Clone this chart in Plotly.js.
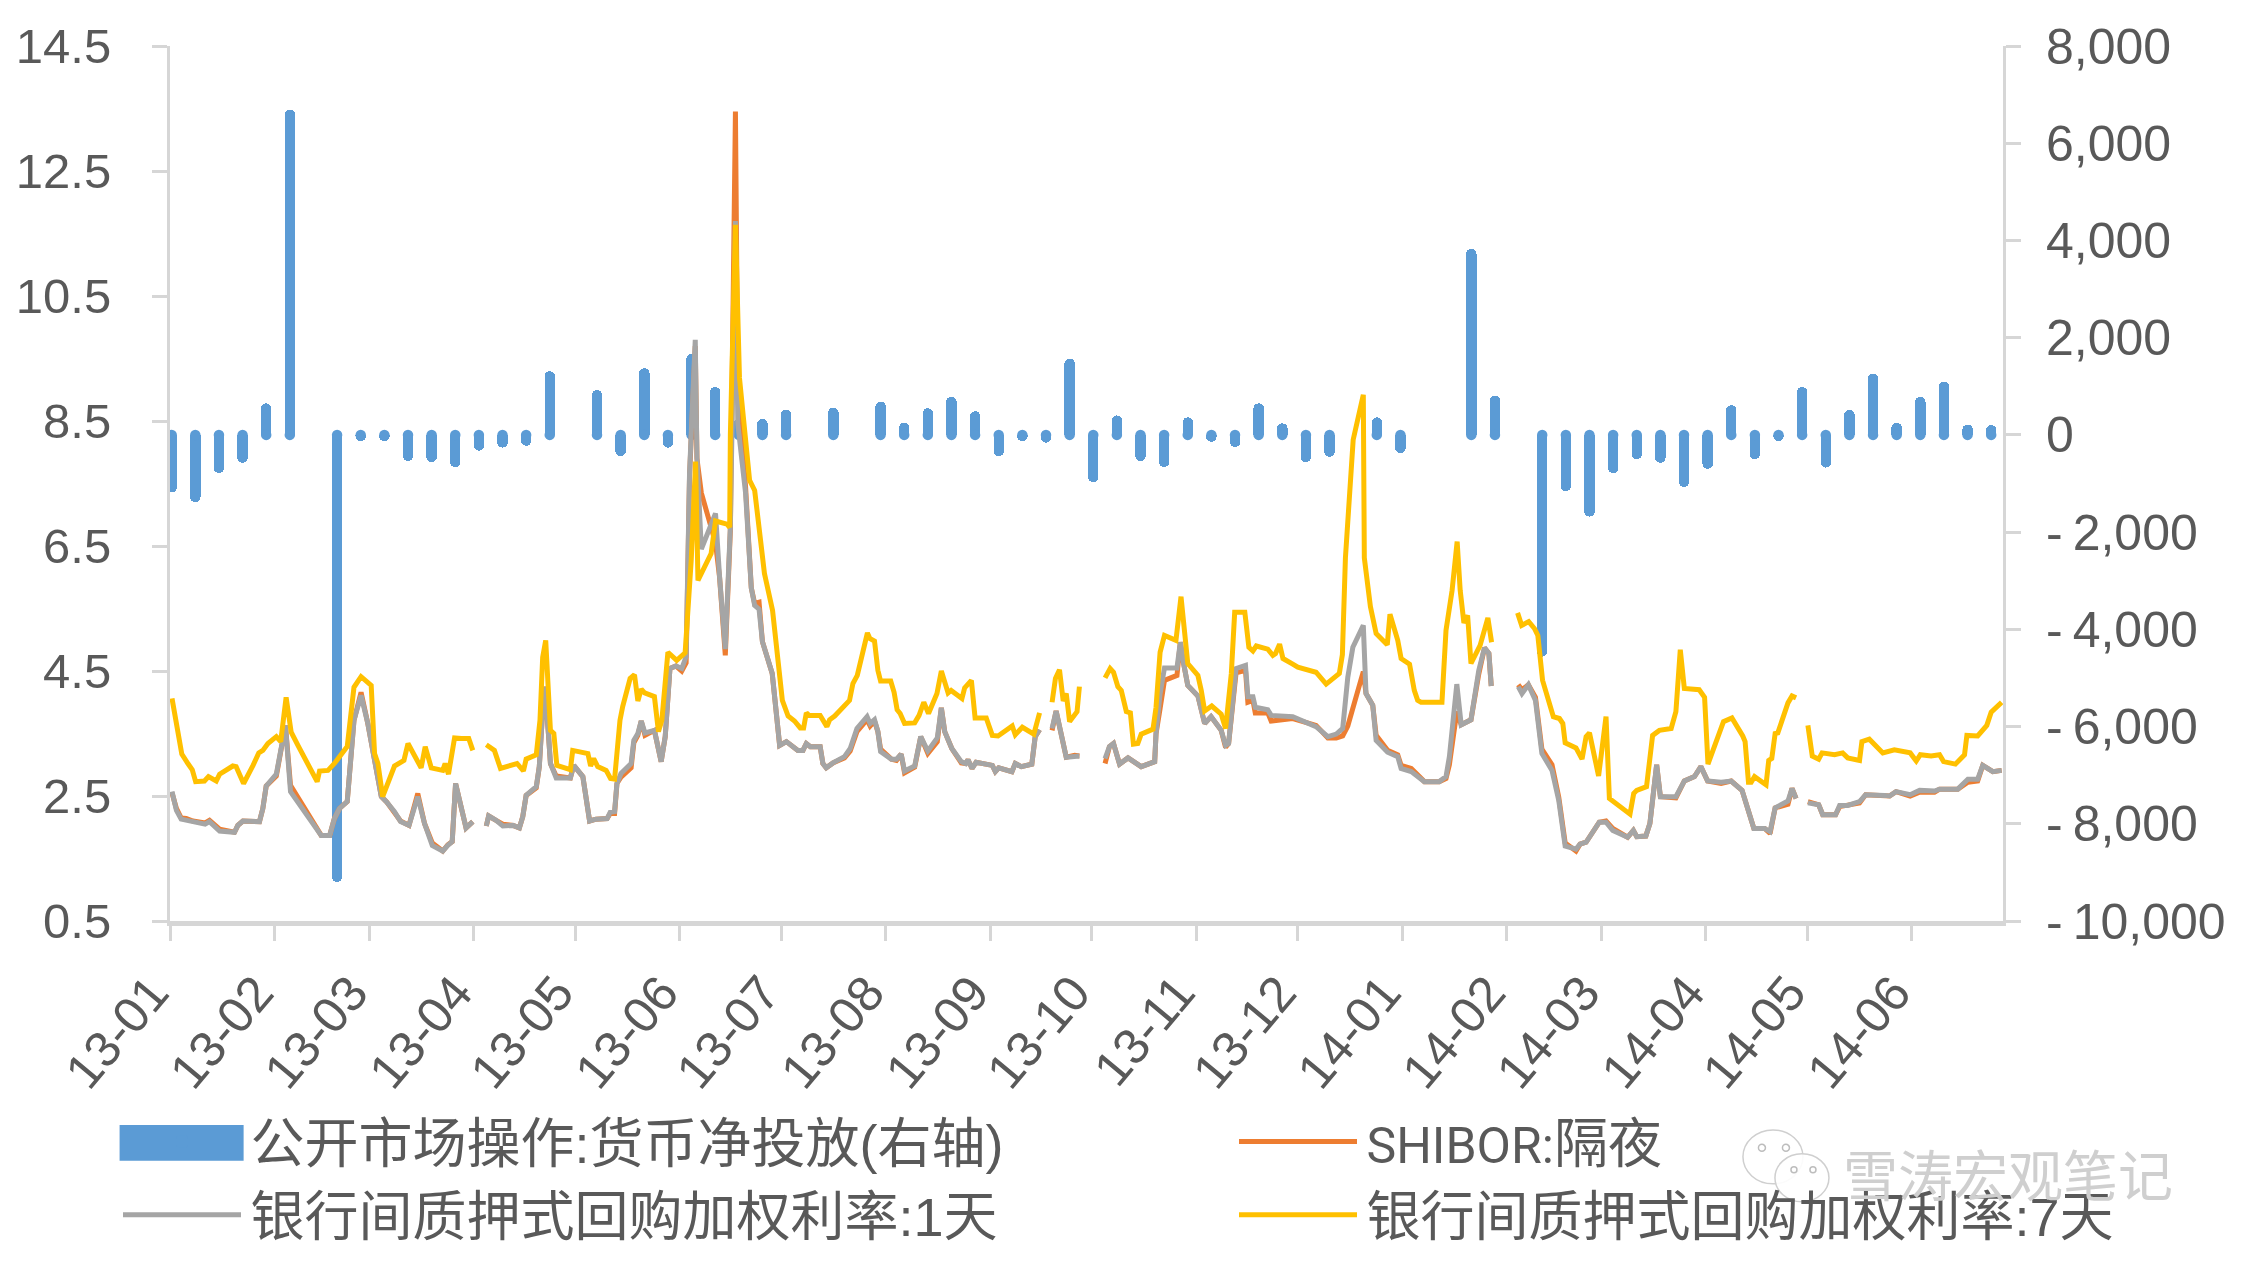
<!DOCTYPE html>
<html><head><meta charset="utf-8">
<script src="https://cdn.plot.ly/plotly-3.0.1.min.js"></script>
<style>html,body{margin:0;padding:0;background:#fff}</style></head>
<body><div id="chart" style="width:2248px;height:1271px"></div>
<script>
// Series names
const nameBars = "\u200A公开市场操作:货币净投放(右轴)";
const nameShibor = "\u200A<span style=\"font-family:Roboto;font-size:50px\">SHIBOR:</span>隔夜";
const nameR1 = "\u200A银行间质押式回购加权利率:1天";
const nameR7 = "\u200A银行间质押式回购加权利率:7天";

// Weekly net injection (right axis); days counted from 2013-01-01
const barDays = [0.5,7.5,14.5,21.5,28.5,35.5,42.5,49.5,56.5,63.5,70.5,77.5,84.5,91.5,98.5,105.5,112.5,119.5,126.5,133.5,140.5,147.5,154.5,161.5,168.5,175.5,182.5,189.5,196.5,203.5,210.5,217.5,224.5,231.5,238.5,245.5,252.5,259.5,266.5,273.5,280.5,287.5,294.5,301.5,308.5,315.5,322.5,329.5,336.5,343.5,350.5,357.5,364.5,371.5,378.5,385.5,392.5,399.5,406.5,413.5,420.5,427.5,434.5,441.5,448.5,455.5,462.5,469.5,476.5,483.5,490.5,497.5,504.5,511.5,518.5,525.5,532.5,539.5];
const barVals = [-1184,-1383,-785,-573,648,6690,null,-9195,-130,-130,-536,-560,-660,-324,-262,-224,1308,null,922,-436,1370,-262,1670,984,330,324,523,null,560,null,685,250,548,785,486,-436,-130,-160,1570,-972,400,-536,-660,360,-140,-250,648,237,-560,-449,null,360,-374,null,null,3825,810,null,-4560,-1159,-1682,-785,-498,-573,-1072,-698,610,-498,-125,984,-673,510,1258,250,785,1096,212,200];

// 1-day repo rate and SHIBOR share these days; null marks a break in the line
const r1Days = [
0.6,1.9,3.3,4.8,6.8,10.4,11.7,14.7,19.1,20.1,21.6,26.5,27.5,28.5,31.5,32.8,34.2,35.7,44.8,47.3,48.7,50.2,52.5,54.5,56.6,58.6,60.6,62.6,64.1,66.5,68.3,70.8,73.4,75.4,77.7,80.8,82.3,83.6,84.6,87.7,89.7,91.5,
93.7,94.4,96.6,98.6,101.6,103.5,104.5,105.5,108.5,109.4,110.4,111.1,112.1,112.7,114.4,118.6,119.6,122.3,124.3,126.2,129.5,130.4,131.7,132.4,133.6,136.6,137.4,138.6,139.6,140.7,143.5,145.5,146.7,148.1,149.9,151.6,152.9,
153.9,155.6,156.1,157.4,161.6,162.8,164.5,166,167.5,168.2,170.5,172.2,173.2,174.5,175.5,178.4,180.6,182.6,186,187.5,188.5,189.7,192.6,193.4,194.4,196.4,199.8,201.5,203.5,206.5,207.4,208.7,209.7,210.5,213.7,215.2,216.6,217.6,220.6,222.4,224.5,227.3,228.5,229.5,231.6,234.4,235.7,236.4,237.6,238.8,243.6,244.5,245.5,249.4,250.4,252.2,255.3,256.3,257.6,259.5,
261.3,262.5,265.5,268,269.4,273,
277,278.3,279.5,281.3,283.8,287.7,291.7,292.1,293.3,294.6,298.3,299.3,300.2,301.5,304.5,306.5,308.4,311.4,312.7,313.6,315.8,318.6,319.3,320.8,321.5,325.2,326.2,332.6,339.5,343,345.5,347.4,348.9,350.4,353.5,354.3,356.3,357.3,360.7,363.7,364.7,367.7,371.6,376,378,379,381.2,382.5,385.4,387.7,389.4,390.7,391.4,395,
399.4,400.5,402.4,404.5,406.4,409.4,411.4,413.3,416.5,417.7,419.5,423.4,425.4,427.4,431.8,433.5,434.5,437.2,438.4,440.4,441.5,446.1,448.6,451.6,453.5,455.5,459.5,462.5,465.7,469.2,472.4,474,475.5,479.3,480.5,481.7,483.5,
485.2,488.4,489.6,493.4,494.6,497,500.5,502.3,507.9,509.4,511.3,515.5,518.3,522.7,524.2,529.6,532.6,535.5,537,540,542.6];
const r1Vals = [
2.57,2.27,2.13,2.11,2.08,2.05,2.09,1.94,1.92,2.03,2.10,2.09,2.30,2.66,2.85,3.18,3.63,2.57,1.87,1.87,2.14,2.30,2.41,3.71,4.11,3.66,3.02,2.49,2.41,2.25,2.09,2.03,2.49,2.06,1.71,1.62,1.71,1.77,2.70,1.99,2.09,null,
2.02,2.18,2.11,2.02,2.03,1.99,2.17,2.51,2.65,2.97,3.87,4.25,3.50,3.02,2.79,2.79,2.99,2.81,2.10,2.13,2.14,2.24,2.25,2.70,2.86,3.02,3.39,3.50,3.70,3.51,3.55,3.05,3.45,4.54,4.58,4.54,4.73,
7.66,9.80,7.92,6.45,7.02,6.01,4.85,6.81,11.70,8.46,7.35,5.83,5.55,5.49,4.97,4.46,3.31,3.37,3.23,3.23,3.34,3.29,3.29,3.02,2.95,3.03,3.13,3.26,3.58,3.77,3.66,3.72,3.53,3.21,3.09,3.09,3.17,2.90,2.98,3.45,3.22,3.43,3.91,3.53,3.26,3.05,3.02,3.08,2.94,3.04,2.99,2.89,2.95,2.89,3.02,2.97,3.01,3.45,3.56,null,
3.58,3.86,3.12,3.12,3.14,null,
3.10,3.29,3.34,3.01,3.11,2.97,3.05,3.50,4.14,4.55,4.55,4.96,4.64,4.27,4.10,3.66,3.77,3.55,3.31,3.34,4.54,4.59,4.09,4.09,3.92,3.88,3.79,3.77,3.61,3.45,3.49,3.58,4.40,4.88,5.23,4.14,3.95,3.39,3.20,3.13,2.94,2.89,2.73,2.73,2.81,3.13,4.29,3.64,3.72,4.51,4.87,4.78,4.26,null,
4.25,4.14,4.28,4.03,3.18,2.91,2.43,1.70,1.65,1.73,1.76,2.08,2.08,1.95,1.84,1.95,1.85,1.86,2.06,3.00,2.49,2.49,2.74,2.81,2.97,2.74,2.72,2.74,2.59,1.98,1.98,1.93,2.31,2.42,2.62,2.46,null,
2.39,2.36,2.20,2.20,2.35,2.35,2.41,2.52,2.51,2.50,2.57,2.52,2.59,2.58,2.61,2.61,2.77,2.77,2.99,2.89,2.91];
const shiborVals = [
2.55,2.30,2.15,2.14,2.10,2.07,2.11,1.97,1.92,2.03,2.10,2.09,2.30,2.66,2.82,3.18,3.63,2.67,1.87,1.87,2.14,2.30,2.41,3.71,4.16,3.66,3.02,2.49,2.41,2.25,2.10,2.03,2.54,2.06,1.75,1.62,1.72,1.77,2.70,1.99,2.09,null,
2.02,2.18,2.11,2.05,2.03,1.99,2.17,2.51,2.63,2.97,3.87,4.25,3.50,3.02,2.82,2.79,2.99,2.81,2.10,2.13,2.14,2.22,2.22,2.70,2.80,2.95,3.35,3.47,3.70,3.47,3.55,3.05,3.45,4.54,4.58,4.50,4.63,
7.60,9.70,7.90,7.35,6.55,6.00,4.75,6.75,13.45,9.00,7.45,5.83,5.58,5.60,4.97,4.46,3.31,3.37,3.23,3.23,3.34,3.29,3.29,3.02,2.95,3.03,3.11,3.22,3.53,3.72,3.62,3.70,3.53,3.25,3.09,3.07,3.17,2.87,2.96,3.45,3.18,3.37,3.91,3.53,3.26,3.03,3.02,3.08,2.94,3.04,2.99,2.89,2.95,2.89,3.02,2.97,3.01,3.45,3.56,null,
3.55,3.86,3.12,3.15,3.14,null,
3.02,3.29,3.34,3.01,3.11,2.97,3.05,3.50,3.90,4.35,4.43,4.96,4.64,4.27,4.10,3.66,3.77,3.55,3.28,3.34,4.47,4.51,4.00,4.03,3.83,3.83,3.70,3.74,3.63,3.43,3.43,3.46,3.62,3.90,4.49,4.14,3.95,3.47,3.23,3.16,2.99,2.94,2.73,2.73,2.78,3.00,3.85,3.64,3.72,4.45,4.87,4.78,4.26,null,
4.28,4.20,4.28,4.08,3.25,3.00,2.48,1.75,1.62,1.73,1.76,2.08,2.10,1.98,1.84,1.95,1.85,1.86,2.06,3.00,2.49,2.47,2.74,2.81,2.97,2.74,2.70,2.74,2.59,1.98,1.98,1.90,2.31,2.37,2.62,2.46,null,
2.41,2.36,2.20,2.20,2.33,2.35,2.39,2.52,2.49,2.50,2.57,2.50,2.56,2.56,2.61,2.61,2.72,2.74,2.99,2.89,2.91];

// 7-day repo rate
const r7Days = [
0.6,1.9,3.5,5.3,6.6,7.6,10.2,11.4,13.7,14.7,18.6,19.6,21.8,24.6,26.3,27.5,29,31.5,32.8,34.4,35.9,37.9,43.6,44.3,46.8,48.7,50.7,52.5,54.5,56.6,59.6,60.6,61.6,63,66.5,68,69.3,70.5,74.4,75.6,77.4,80.8,81.5,82.5,84.3,86.3,88.5,89.7,91.5,
93.7,94.6,96.1,97.9,102,102.8,104.7,105.5,108.5,109.6,110.4,111.3,112.7,113.7,114.6,118.6,119.3,123.8,124.6,125.5,126.7,129.2,130.5,131.7,133.3,134.1,136.3,137.6,138.6,139.6,140.6,143.5,144.7,145.7,147.5,150.1,152.6,153.4,154.4,155.7,156.4,160.3,161.6,165,165.8,166,167.5,168.7,171.7,173.2,175.5,176.1,178.5,180.6,181.4,183.1,185,186.7,187.7,188.5,189.3,192.6,194.6,195.4,196.9,201.3,202.3,203.6,206.6,207.3,208.7,209.7,210.5,213.5,214.5,215.4,216.3,217.6,220.6,221.9,223.3,224.7,227.2,228.5,230.5,231.4,234.6,235.4,237.4,238.5,241.8,243.6,245.3,249.5,250.4,252.5,255.9,257.6,259.5,
261.3,262.3,263.5,264.6,265.5,266.5,268.7,269.4,273,
277,278.5,279.5,280.8,281.8,283.3,284.5,285.4,286.7,287.7,291.2,292.1,293.3,294.6,298,299.5,301.5,304.5,305.5,306.5,308.6,311.4,312.7,314.4,315.4,318.4,319.6,320.8,321.8,325.2,326.7,327.5,328.7,329.7,332.6,334.1,339.5,341,342.5,346.4,347.3,348.2,350.5,353.5,353.8,355.6,357.3,360.6,361.4,363.7,364.7,367.2,368.6,369.6,370.6,376.8,378,379.8,381.3,382.2,382.7,383.3,384.4,385.4,388.1,390.4,391.5,395,
399.2,400.4,402.5,404.2,405.2,406.6,409.8,411.6,412.6,413.3,416.5,418.3,419.5,420.5,423.2,425.4,426.4,432.5,433.6,434.5,437.4,439.2,441.2,444.7,446.1,447.4,448.6,453,454.6,455.6,460.2,462.7,465.9,466.6,467.6,468.4,469.4,472.8,473.6,474.5,475.5,476.3,479.3,480.5,481.7,483.5,
485.2,486.5,488.4,489.4,493.1,495.5,497,500.5,501.2,503.4,507.4,510.8,515.5,517.3,518.5,521.7,524.2,525.4,528.9,531.6,532.3,535.5,538.2,539.5,542.6];
const r7Vals = [
4.06,3.61,3.17,3.02,2.92,2.73,2.74,2.81,2.74,2.85,2.98,2.97,2.70,2.99,3.19,3.23,3.34,3.45,3.37,4.08,3.52,3.31,2.73,2.90,2.91,3.02,3.18,3.29,4.24,4.41,4.27,3.18,3.02,2.49,2.98,3.03,3.07,3.34,2.95,3.29,2.95,2.91,3.02,2.85,3.43,3.42,3.42,3.23,null,
3.32,3.28,3.23,2.94,2.99,3.02,2.90,3.09,3.16,3.71,4.72,4.99,3.55,3.50,2.99,2.92,3.23,3.18,2.98,3.10,2.97,2.91,2.78,2.77,3.71,3.93,4.38,4.44,4.02,4.21,4.15,4.09,3.53,3.71,4.80,4.67,4.79,5.47,6.27,7.85,5.95,6.38,6.90,6.85,6.80,8.28,11.64,9.19,7.55,7.39,6.20,6.06,5.47,4.46,4.03,3.78,3.70,3.59,3.59,3.83,3.79,3.79,3.61,3.72,3.78,4.03,4.30,4.43,5.11,5.02,4.98,4.51,4.34,4.34,4.16,3.88,3.82,3.66,3.67,3.79,4.00,3.82,4.14,4.50,4.15,4.19,4.06,4.23,4.35,3.75,3.75,3.47,3.46,3.62,3.48,3.60,3.49,3.83,null,
4.00,4.38,4.52,4.02,4.14,3.69,3.85,4.25,null,
4.39,4.54,4.48,4.25,4.19,3.85,3.83,3.33,3.34,3.49,3.57,3.92,4.80,5.07,4.99,5.69,4.62,4.43,4.19,3.86,3.94,3.81,3.58,4.46,5.44,5.44,4.88,4.82,4.90,4.85,4.75,4.78,4.93,4.70,4.61,4.56,4.48,4.38,4.29,4.46,4.76,6.31,8.20,8.92,6.31,5.53,5.10,4.92,5.41,4.99,4.70,4.61,4.19,4.03,4.00,4.00,5.15,5.79,6.57,5.79,5.47,5.27,5.39,4.62,4.91,5.35,4.96,null,
5.43,5.23,5.29,5.18,5.07,4.35,3.77,3.74,3.66,3.35,3.27,3.09,3.45,3.51,2.82,3.77,2.46,2.21,2.54,2.59,2.65,3.47,3.55,3.58,3.85,4.84,4.22,4.20,4.08,3.01,3.69,3.75,3.46,3.37,2.72,2.72,2.81,2.68,3.07,3.10,3.50,3.51,3.99,4.10,4.07,null,
3.63,3.14,3.09,3.19,3.16,3.19,3.11,3.07,3.37,3.41,3.19,3.24,3.19,3.06,3.16,3.14,3.16,3.05,3.01,3.16,3.47,3.46,3.63,3.84,4.00];

// Axis labels
const leftTicks = [0.5,2.5,4.5,6.5,8.5,10.5,12.5,14.5];
const leftLabels = ["0.5","2.5","4.5","6.5","8.5","10.5","12.5","14.5"];
const rightTicks = [-10000,-8000,-6000,-4000,-2000,0,2000,4000,6000,8000];
const rightLabels = ["-\u200910,000","-\u20098,000","-\u20096,000","-\u20094,000","-\u20092,000","0","2,000","4,000","6,000","8,000"];

const BLUE="#5B9BD5", ORANGE="#ED7D31", GREY="#A5A5A5", YELLOW="#FFC000", AXIS="#D6D6D6", TEXT="#595959";
const FONT="'Liberation Sans','Noto Sans CJK SC',sans-serif";
const toDate = d => d.map(v => new Date(Date.UTC(2013,0,1)+v*864e5).toISOString().slice(0,19).replace("T"," "));
const barWidthDays = 3.1;

const traces = [
 {type:"bar",name:nameBars,x:toDate(barDays),y:barVals,yaxis:"y",legend:"legend",width:barDays.map(()=>barWidthDays*864e5),
  marker:{color:BLUE,cornerradius:5,line:{width:0}},hoverinfo:"skip"},
 {type:"scatter",mode:"markers",showlegend:false,x:toDate(barDays),y:barVals.map(v=>v===null?null:0),yaxis:"y",
  marker:{color:BLUE,size:10.5,line:{width:0}},hoverinfo:"skip"},
 {type:"scatter",mode:"lines",name:nameShibor,x:toDate(r1Days),y:shiborVals,yaxis:"y2",legend:"legend2",line:{color:ORANGE,width:5},hoverinfo:"skip"},
 {type:"scatter",mode:"lines",name:nameR1,x:toDate(r1Days),y:r1Vals,yaxis:"y2",legend:"legend",line:{color:GREY,width:5},hoverinfo:"skip"},
 {type:"scatter",mode:"lines",name:nameR7,x:toDate(r7Days),y:r7Vals,yaxis:"y2",legend:"legend2",line:{color:YELLOW,width:5},hoverinfo:"skip"}
];

const L=170.4,R=2003,T=45.5,B=921;
const px=X=>(X-L)/(R-L), py=Y=>(B-Y)/(B-T);
const circ=(x,y,rx,ry,extra)=>Object.assign({type:"circle",xref:"paper",yref:"paper",x0:px(x-rx),x1:px(x+rx),y0:py(y+ry),y1:py(y-ry),line:{color:"#CFCFCF",width:1.5},fillcolor:"rgba(255,255,255,0.9)"},extra||{});
const shapes=[
 {type:"rect",xref:"paper",yref:"paper",x0:px(120),x1:px(244),y0:py(1161),y1:py(1125),fillcolor:BLUE,line:{width:0},layer:"above"},
 circ(1773,1157,30,27),
 circ(1802,1178,27,24),
 circ(1762,1148,3.5,3.5,{line:{color:"#BDBDBD",width:1.5}}),
 circ(1786,1148,3.5,3.5,{line:{color:"#BDBDBD",width:1.5}}),
 circ(1794,1170,3,3,{line:{color:"#BDBDBD",width:1.5}}),
 circ(1813,1170,3,3,{line:{color:"#BDBDBD",width:1.5}})
];

const legendBase={orientation:"v",xref:"container",yref:"container",xanchor:"left",yanchor:"top",itemwidth:118,
  bgcolor:"rgba(0,0,0,0)",borderwidth:0,font:{family:FONT,size:54,color:TEXT},traceorder:"normal",itemclick:false,itemdoubleclick:false};

const layout={
 width:2248,height:1271,paper_bgcolor:"#fff",plot_bgcolor:"#fff",
 margin:{l:L,r:2248-R,t:T,b:1271-B,pad:0,autoexpand:false},
 font:{family:FONT,color:TEXT},bargap:0,barmode:"overlay",hovermode:false,showlegend:true,
 xaxis:{type:"date",range:["2013-01-01","2014-06-28"],dtick:"M1",tick0:"2013-01-01",tickformat:"%y-%m",tickangle:-50,
   ticks:"outside",ticklen:15,tickwidth:3,tickcolor:AXIS,showline:true,linecolor:AXIS,linewidth:5,showgrid:false,zeroline:false,
   tickfont:{family:FONT,size:50,color:TEXT},automargin:false,ticklabelstandoff:2,ticklabelshift:-18},
 yaxis:{side:"right",range:[-10000,8000],tickmode:"array",tickvals:rightTicks,ticktext:rightLabels,ticks:"outside",ticklen:15,tickwidth:3,tickcolor:AXIS,
   showline:true,linecolor:AXIS,linewidth:3,showgrid:false,zeroline:false,tickfont:{family:FONT,size:50,color:TEXT},ticklabelstandoff:15,automargin:false},
 yaxis2:{overlaying:"y",side:"left",anchor:"x",range:[0.5,14.5],tickmode:"array",tickvals:leftTicks,ticktext:leftLabels,ticks:"outside",ticklen:15,tickwidth:3,tickcolor:AXIS,
   showline:true,linecolor:AXIS,linewidth:3,showgrid:false,zeroline:false,tickfont:{family:FONT,size:49,color:TEXT},ticklabelstandoff:31,automargin:false},
 legend:Object.assign({},legendBase,{x:118/2248,y:1-1100/1271}),
 legend2:Object.assign({},legendBase,{x:1234/2248,y:1-1100/1271}),
 shapes:shapes,
 annotations:[{xref:"paper",yref:"paper",x:px(2008),y:py(1172),xanchor:"center",yanchor:"middle",showarrow:false,
   text:"雪涛宏观笔记",font:{family:"'Noto Sans CJK SC',sans-serif",size:55,color:"#CFCFCF"}}]
};
Plotly.newPlot("chart",traces,layout,{displayModeBar:false,staticPlot:true});
</script></body></html>
